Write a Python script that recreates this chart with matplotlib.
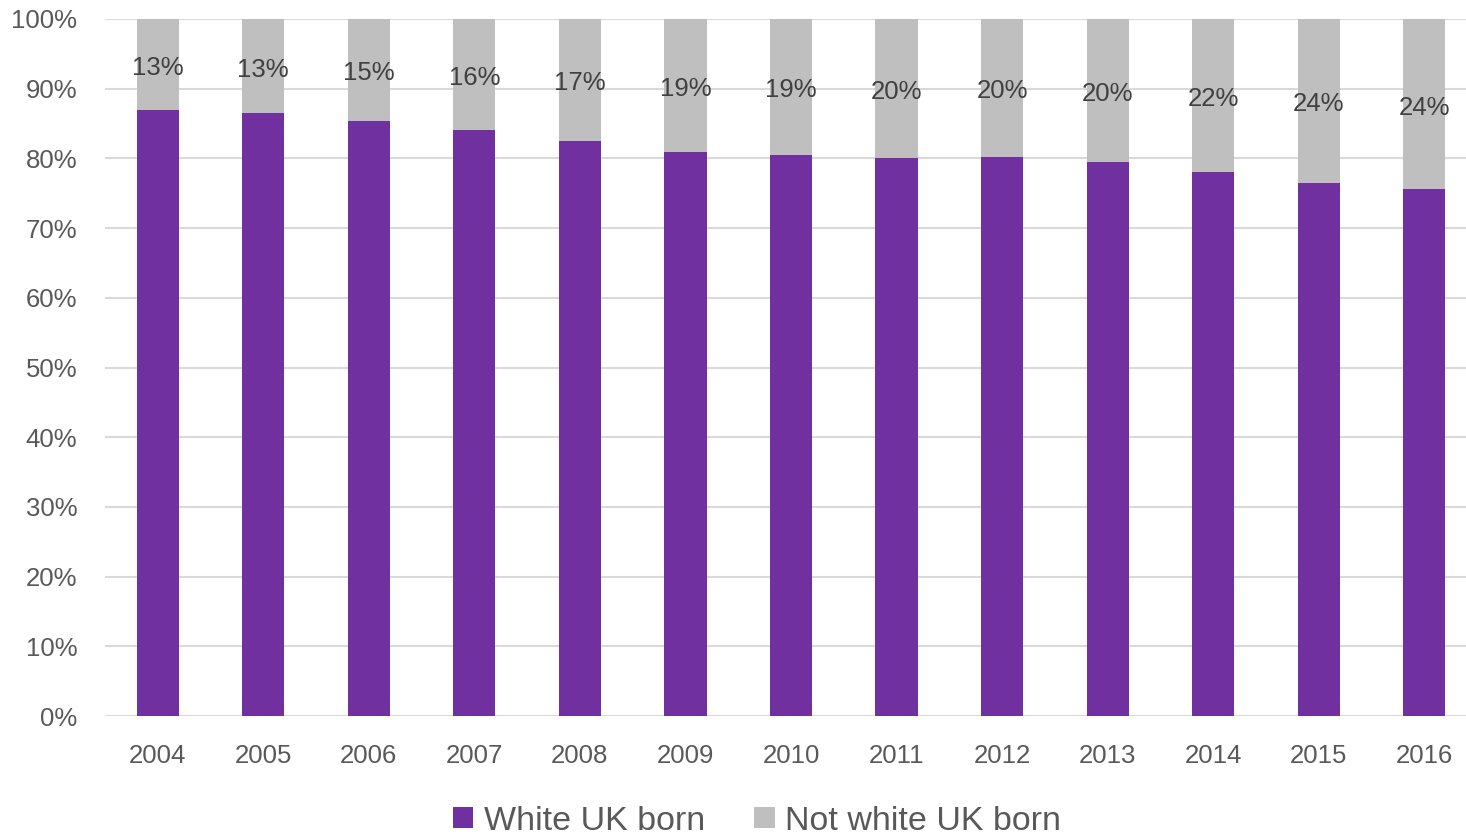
import matplotlib
matplotlib.use("Agg")
import matplotlib.pyplot as plt
import numpy as np

plt.rcParams['font.family'] = ['Liberation Sans', 'DejaVu Sans']

years = ['2004', '2005', '2006', '2007', '2008', '2009', '2010',
         '2011', '2012', '2013', '2014', '2015', '2016']
white_uk = [86.9, 86.5, 85.4, 84.1, 82.5, 80.9, 80.5, 80.1, 80.2, 79.5, 78.0, 76.5, 75.6]
not_white_uk = [13.1, 13.5, 14.6, 15.9, 17.5, 19.1, 19.5, 19.9, 19.8, 20.5, 22.0, 23.5, 24.4]
labels = ['13%', '13%', '15%', '16%', '17%', '19%', '19%',
          '20%', '20%', '20%', '22%', '24%', '24%']

purple = '#7030A0'
grey = '#BFBFBF'

fig = plt.figure(figsize=(14.66, 8.34), dpi=100)
ax = fig.add_axes([105 / 1466, 1 - 716 / 834, 1 - 105 / 1466, (716 - 19) / 834])

x = np.arange(len(years))
ax.bar(x, white_uk, width=0.4, color=purple, label='White UK born', zorder=3)
ax.bar(x, not_white_uk, width=0.4, bottom=white_uk, color=grey,
       label='Not white UK born', zorder=3)

# labels sit in the middle of the grey part
for i in range(len(years)):
    ax.text(x[i], white_uk[i] + not_white_uk[i] / 2 - 0.5, labels[i],
            ha='center', va='center', fontsize=18.5, color='#404040', zorder=4)

ax.set_xlim(-0.5, 12.5 - 11 / 105.5)
ax.set_ylim(0, 100)
ax.set_yticks(np.arange(0, 101, 10))
ax.set_yticklabels([f'{v}%' for v in range(0, 101, 10)])
ax.set_xticks(x)
ax.set_xticklabels(years)
ax.tick_params(axis='both', length=0, labelsize=18.5, colors='#595959')
ax.tick_params(axis='x', pad=20)
ax.tick_params(axis='y', pad=20)
ax.yaxis.grid(True, color='#D9D9D9', linewidth=1.5, zorder=0)
for s in ax.spines.values():
    s.set_visible(False)
ax.axhline(0, color='#D9D9D9', linewidth=1.5, zorder=2)

fig.legend(loc='center', bbox_to_anchor=(757 / 1466, 1 - 821 / 834), ncol=2,
           frameon=False, fontsize=24.5, handlelength=0.6, handleheight=0.6,
           handletextpad=0.3, columnspacing=1.45, labelcolor='#595959')

fig.savefig('out.png', dpi=100)
